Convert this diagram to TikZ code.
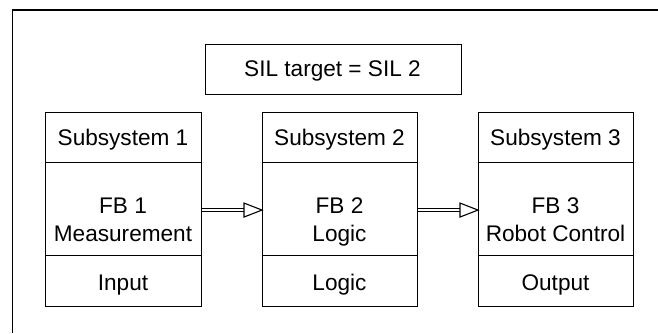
\documentclass[tikz,border=0pt]{standalone}
\usepackage{fontspec}
\setmainfont{Liberation Sans}
\usetikzlibrary{calc}
\begin{document}
\begin{tikzpicture}[x=1pt,y=-1pt,
  cell/.style={draw, line width=1.1pt, inner sep=0pt, anchor=north west},
  txt/.style={anchor=base, inner sep=0pt, font=\fontsize{22.6}{27}\selectfont},
  dblline/.style={draw, line width=1pt, double, double distance=2.8pt, shorten >=17pt},
  headtip/.style={draw, line width=1.1pt, fill=white, line join=miter}]
\useasboundingbox (0,0) rectangle (658,333);

% outer frame (open to the right and bottom)
\draw[line width=1.2pt] (12.5,333) -- (12.5,10) -- (658,10);

% SIL target box
\node[cell, minimum width=256pt, minimum height=50pt] (sil) at (204.5,43.5) {};
\node[txt] (siltxt) at (332.5,76.5) {SIL target = SIL 2};

% subsystem 1
\node[cell, minimum width=156pt, minimum height=50pt] (h1) at (45,112) {};
\node[cell, minimum width=156pt, minimum height=93pt] (m1) at (45,162) {};
\node[cell, minimum width=156pt, minimum height=51pt] (b1) at (45,255) {};
\node[txt] (h1t) at (123,145) {Subsystem 1};
\node[txt] (m1a) at (123,213) {FB 1};
\node[txt] (m1b) at (123,241.5) {Measurement};
\node[txt] (b1t) at (123,290) {Input};

% subsystem 2
\node[cell, minimum width=155pt, minimum height=50pt] (h2) at (262,112) {};
\node[cell, minimum width=155pt, minimum height=93pt] (m2) at (262,162) {};
\node[cell, minimum width=155pt, minimum height=51pt] (b2) at (262,255) {};
\node[txt] (h2t) at (339.5,145) {Subsystem 2};
\node[txt] (m2a) at (339.5,213) {FB 2};
\node[txt] (m2b) at (339.5,241.5) {Logic};
\node[txt] (b2t) at (339.5,290) {Logic};

% subsystem 3
\node[cell, minimum width=155pt, minimum height=50pt] (h3) at (478,112) {};
\node[cell, minimum width=155pt, minimum height=93pt] (m3) at (478,162) {};
\node[cell, minimum width=155pt, minimum height=51pt] (b3) at (478,255) {};
\node[txt] (h3t) at (555.5,145) {Subsystem 3};
\node[txt] (m3a) at (555.5,213) {FB 3};
\node[txt] (m3b) at (555.5,241.5) {Robot Control};
\node[txt] (b3t) at (555.5,290) {Output};

% double-line connectors with open block heads
\draw[dblline] ($(m1.east)+(0,1)$) -- ($(m2.west)+(0,1)$);
\draw[headtip] ($(m2.west)+(0,1)$) -- ++(-18,-7) -- ++(0,14) -- cycle;
\draw[dblline] ($(m2.east)+(0,1)$) -- ($(m3.west)+(0,1)$);
\draw[headtip] ($(m3.west)+(0,1)$) -- ++(-18,-7) -- ++(0,14) -- cycle;
\end{tikzpicture}
\end{document}
